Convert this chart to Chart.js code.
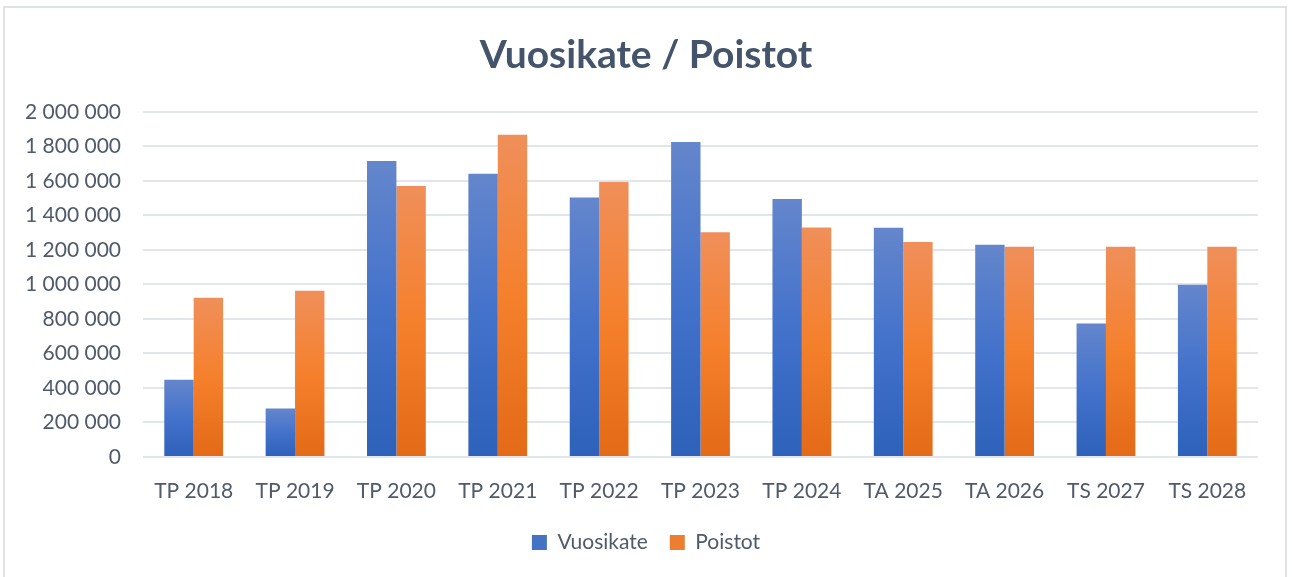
<!DOCTYPE html>
<html>
<head>
<meta charset="utf-8">
<script src="https://cdn.jsdelivr.net/npm/chart.js@4.4.1/dist/chart.umd.min.js"></script>
<style>
  html, body { margin: 0; padding: 0; background: #fff; }
  #wrap { position: relative; width: 1292px; height: 577px; }
  #frame { position: absolute; left: 3px; top: 6px; width: 1284px; height: 580px; border: 2px solid #dfe3e8; box-sizing: border-box; }
  canvas { position: absolute; left: 0; top: 0; }
</style>
</head>
<body>
<div id="wrap">
  <div id="frame"></div>
  <canvas id="chart" width="1292" height="577"></canvas>
</div>
<script>
var categories = ['TP 2018', 'TP 2019', 'TP 2020', 'TP 2021', 'TP 2022', 'TP 2023', 'TP 2024', 'TA 2025', 'TA 2026', 'TS 2027', 'TS 2028'];
var vuosikate  = [447000, 281000, 1715000, 1641000, 1503000, 1825000, 1495000, 1328000, 1229000, 773000, 998000];
var poistot    = [923000, 963000, 1570000, 1867000, 1593000, 1302000, 1329000, 1245000, 1218000, 1218000, 1218000];
var yTicks     = [0, 200000, 400000, 600000, 800000, 1000000, 1200000, 1400000, 1600000, 1800000, 2000000];

var fontFamily = 'Lato, "Open Sans", sans-serif';
var textColor  = '#505a6a';

// per bar gradient: light top, saturated middle, darker bottom
function barGradient(stops, solid) {
  return function (ctx) {
    var chart = ctx.chart;
    var area = chart.chartArea;
    if (!area || ctx.type !== 'data') return solid;
    var y = chart.scales.y;
    var top = y.getPixelForValue(ctx.raw);
    var bottom = y.getPixelForValue(0);
    if (!isFinite(top) || bottom - top < 1) return solid;
    var g = chart.ctx.createLinearGradient(0, top, 0, bottom);
    g.addColorStop(0, stops[0]);
    g.addColorStop(0.5, stops[1]);
    g.addColorStop(1, stops[2]);
    return g;
  };
}

function formatFi(v) {
  return String(v).replace(/\B(?=(\d{3})+(?!\d))/g, ' ');
}

new Chart(document.getElementById('chart').getContext('2d'), {
  type: 'bar',
  data: {
    labels: categories,
    datasets: [
      {
        label: 'Vuosikate',
        data: vuosikate,
        backgroundColor: barGradient(['#6486cc', '#4372cb', '#2d61ba'], '#4472c4'),
        legendColor: '#4472c4',
        borderWidth: 0,
        categoryPercentage: 0.58,
        barPercentage: 1.0
      },
      {
        label: 'Poistot',
        data: poistot,
        backgroundColor: barGradient(['#f08f5a', '#f5802c', '#e36a16'], '#ed7d31'),
        legendColor: '#ed7d31',
        borderWidth: 0,
        categoryPercentage: 0.58,
        barPercentage: 1.0
      }
    ]
  },
  options: {
    responsive: false,
    animation: false,
    layout: { padding: { left: 0, right: 0, top: 8, bottom: 14 } },
    plugins: {
      title: {
        display: true,
        text: 'Vuosikate / Poistot',
        color: '#44546a',
        font: { family: fontFamily, size: 39, weight: 'bold' },
        padding: { top: 24, bottom: 33 }
      },
      legend: {
        position: 'bottom',
        labels: {
          color: textColor,
          font: { family: fontFamily, size: 21 },
          boxWidth: 15,
          boxHeight: 15,
          padding: 22,
          generateLabels: function (chart) {
            return chart.data.datasets.map(function (ds, i) {
              return {
                text: ds.label,
                fillStyle: ds.legendColor,
                strokeStyle: ds.legendColor,
                lineWidth: 0,
                fontColor: textColor,
                hidden: false,
                datasetIndex: i
              };
            });
          }
        }
      },
      tooltip: { enabled: false }
    },
    scales: {
      x: {
        grid: { display: false, drawTicks: false },
        border: { display: false },
        ticks: { color: textColor, font: { family: fontFamily, size: 21 }, padding: 22, maxRotation: 0 },
        afterFit: function (scale) { scale.height = 53; }
      },
      y: {
        min: 0,
        max: 2000000,
        afterBuildTicks: function (scale) {
          scale.ticks = yTicks.map(function (v) { return { value: v }; });
        },
        grid: { color: '#e2e5ea', lineWidth: 2, drawTicks: false },
        border: { display: false },
        ticks: {
          color: textColor,
          font: { family: fontFamily, size: 21 },
          padding: 22,
          callback: function (v) { return formatFi(v); }
        },
        afterFit: function (scale) { scale.width = 143; }
      },
      // empty right-hand spacer so the legend stays centred on the page
      spacer: {
        type: 'linear',
        position: 'right',
        grid: { display: false, drawTicks: false },
        border: { display: false },
        ticks: { display: false },
        afterFit: function (scale) { scale.width = 34; }
      }
    }
  }
});
</script>
</body>
</html>
